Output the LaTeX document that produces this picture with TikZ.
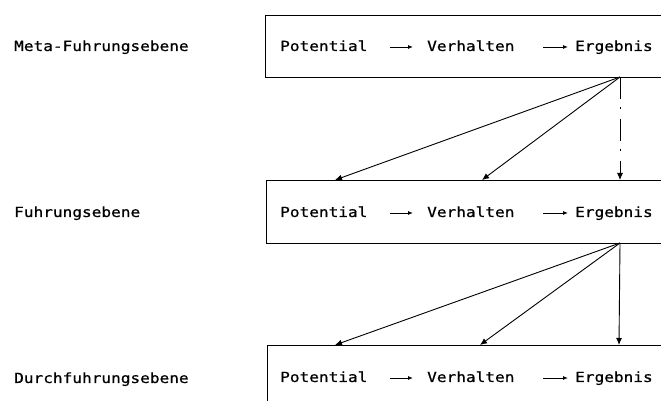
\documentclass[tikz,border=0pt]{standalone}
\usepackage{fontspec}
\setmonofont[FakeStretch=1.15,FakeBold=0.6]{DejaVu Sans Mono}
\usetikzlibrary{arrows.meta}
\begin{document}
\begin{tikzpicture}[x=1pt,y=1pt,
  lbl/.style={anchor=base west,inner sep=0pt,font=\ttfamily\fontsize{14}{16}\selectfont},
  word/.style={anchor=base west,inner sep=0pt,font=\ttfamily\fontsize{14}{16}\selectfont},
  levelbox/.style={draw,line width=1.1pt,anchor=north west,minimum width=500pt,inner sep=0pt},
  inarrow/.style={line width=0.9pt,-{Latex[length=5pt,width=4pt]}},
  link/.style={line width=0.9pt,-{Latex[length=7pt,width=6pt]}}
]
\useasboundingbox (0,0) rectangle (661,401);
\clip (0,0) rectangle (661,401);
\fill[white] (0,0) rectangle (661,401);

% boxes
\node[levelbox,minimum height=62pt] (b1) at (265,386) {};
\node[levelbox,minimum height=63pt] (b2) at (266,221) {};
\node[levelbox,minimum height=90pt] (b3) at (267,56) {};

% left labels
\node[lbl] (l1) at (14,350) {Meta-Fuhrungsebene};
\node[lbl] (l2) at (14,184) {Fuhrungsebene};
\node[lbl] (l3) at (14,18) {Durchfuhrungsebene};

% words level 1
\node[word] (p1) at (280,350) {Potential};
\node[word] (v1) at (427,350) {Verhalten};
\node[word] (e1) at (575,350) {Ergebnis};
\draw[inarrow] ([shift={(110,4)}]p1.base west) -- ([shift={(-14,4)}]v1.base west);
\draw[inarrow] ([shift={(116,4)}]v1.base west) -- ([shift={(-7,4)}]e1.base west);

% words level 2
\node[word] (p2) at (280,184) {Potential};
\node[word] (v2) at (427,184) {Verhalten};
\node[word] (e2) at (575,184) {Ergebnis};
\draw[inarrow] ([shift={(110,4)}]p2.base west) -- ([shift={(-14,4)}]v2.base west);
\draw[inarrow] ([shift={(116,4)}]v2.base west) -- ([shift={(-7,4)}]e2.base west);

% words level 3
\node[word] (p3) at (280,19) {Potential};
\node[word] (v3) at (427,19) {Verhalten};
\node[word] (e3) at (575,19) {Ergebnis};
\draw[inarrow] ([shift={(110,4)}]p3.base west) -- ([shift={(-14,4)}]v3.base west);
\draw[inarrow] ([shift={(116,4)}]v3.base west) -- ([shift={(-7,4)}]e3.base west);

% connectors between levels
\coordinate (s1) at (620,324);
\coordinate (t1a) at (335,221);
\coordinate (t1b) at (482,221);
\coordinate (t1c) at (620,221);
\draw[link] (s1) -- (t1a);
\draw[link] (s1) -- (t1b);
\draw[link,dash pattern=on 22pt off 8pt on 2pt off 10pt] (s1) -- (t1c);

\coordinate (s2) at (620,158);
\coordinate (t2a) at (335,56);
\coordinate (t2b) at (480,56);
\coordinate (t2c) at (619,56);
\draw[link] (s2) -- (t2a);
\draw[link] (s2) -- (t2b);
\draw[link] (s2) -- (t2c);
\end{tikzpicture}
\end{document}
